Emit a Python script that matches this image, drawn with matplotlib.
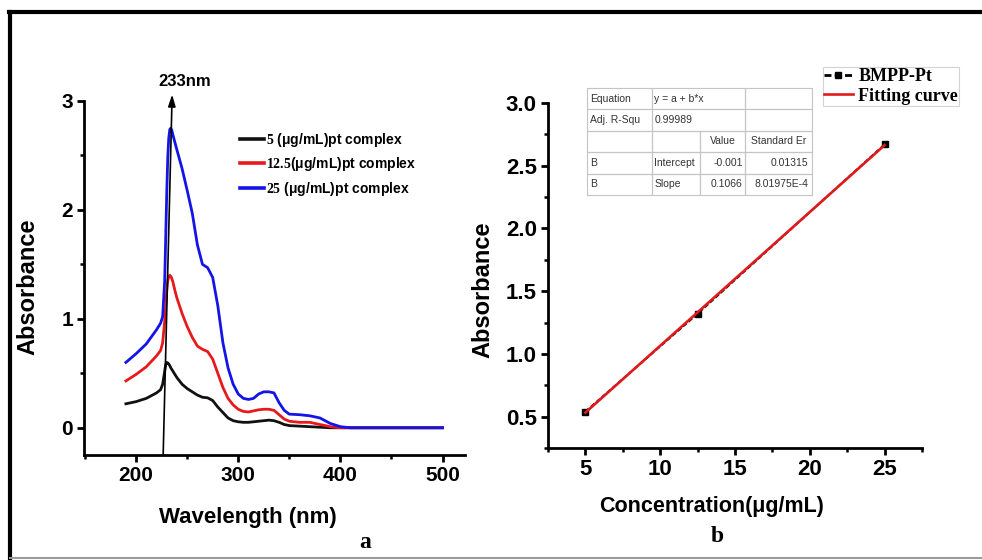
import matplotlib
matplotlib.use("Agg")
import matplotlib.pyplot as plt
from matplotlib.lines import Line2D
from matplotlib.ticker import MultipleLocator

plt.rcParams['font.family'] = ['Liberation Sans', 'DejaVu Sans']
plt.rcParams['font.weight'] = 'bold'
plt.rcParams['mathtext.fontset'] = 'custom'
plt.rcParams['mathtext.rm'] = 'Liberation Serif:bold'

# ---------------- data: panel a (UV-Vis spectra) ----------------
wavelength = [190, 200, 210, 220, 224, 226, 228, 229, 230, 231, 232, 233, 234, 235, 236, 238, 240,
              245, 250, 255, 260, 265, 270, 275, 280, 285, 290, 295, 300, 305, 310, 315, 320,
              325, 330, 335, 340, 345, 350, 360, 370, 380, 390, 400, 410, 420, 450, 500]
abs_5 = [0.22, 0.24, 0.27, 0.32, 0.35, 0.40, 0.52, 0.58, 0.60, 0.595, 0.585, 0.57, 0.55, 0.535, 0.52, 0.49, 0.46,
         0.40, 0.36, 0.33, 0.30, 0.28, 0.275, 0.25, 0.19, 0.14, 0.09, 0.065, 0.055, 0.05, 0.05, 0.055, 0.06,
         0.065, 0.07, 0.065, 0.05, 0.03, 0.02, 0.015, 0.01, 0.005, 0.0, 0.0, 0.0, 0.0, 0.0, 0.0]
abs_12_5 = [0.43, 0.49, 0.56, 0.66, 0.71, 0.78, 0.98, 1.12, 1.26, 1.35, 1.39, 1.40, 1.39, 1.37, 1.34, 1.26, 1.19,
            1.05, 0.93, 0.83, 0.75, 0.72, 0.70, 0.63, 0.50, 0.37, 0.27, 0.21, 0.17, 0.15, 0.145, 0.155, 0.165,
            0.17, 0.17, 0.16, 0.12, 0.08, 0.06, 0.05, 0.05, 0.03, 0.01, 0.0, 0.0, 0.0, 0.0, 0.0]
abs_25 = [0.60, 0.68, 0.77, 0.90, 0.96, 1.02, 1.35, 1.75, 2.15, 2.48, 2.66, 2.74, 2.75, 2.73, 2.69, 2.62, 2.55,
          2.38, 2.18, 1.97, 1.68, 1.50, 1.47, 1.38, 1.12, 0.78, 0.55, 0.40, 0.31, 0.27, 0.26, 0.27, 0.31,
          0.33, 0.33, 0.32, 0.23, 0.16, 0.125, 0.12, 0.11, 0.09, 0.04, 0.01, 0.0, 0.0, 0.0, 0.0]
series_labels = [r"$\mathrm{5}$ (μg/mL)pt complex",
                 r"$\mathrm{12.5}$(μg/mL)pt complex",
                 r"$\mathrm{25}$ (μg/mL)pt complex"]
series_colors = ['#111111', '#e8191c', '#1414e6']
peak_label = "233nm"
arrow_base = (226.5, -0.25)
arrow_tip = (235.3, 3.06)

# ---------------- data: panel b (calibration) ----------------
conc = [5, 12.5, 25]
absorb = [0.54, 1.32, 2.67]
fit_a = -0.001
fit_b = 0.1066
table_rows = [["Equation", "y = a + b*x", "", ""],
              ["Adj. R-Squ", "0.99989", "", ""],
              ["", "", "Value", "Standard Er"],
              ["B", "Intercept", "-0.001", "0.01315"],
              ["B", "Slope", "0.1066", "8.01975E-4"]]

W, H = 982, 560
fig = plt.figure(figsize=(W / 100, H / 100), dpi=100)

def frac(x0, y0, x1, y1):
    return [x0 / W, 1 - y1 / H, (x1 - x0) / W, (y1 - y0) / H]

# ---------------- panel a ----------------
ax1 = fig.add_axes(frac(84, 101, 465, 455))
for y, lab, c in zip([abs_5, abs_12_5, abs_25], series_labels, series_colors):
    ax1.plot(wavelength, y, color=c, lw=2.0, label=lab, solid_joinstyle='round')
ax1.set_xlim(149, 522)
ax1.set_ylim(-0.25, 3.0)
ax1.xaxis.set_major_locator(MultipleLocator(100))
ax1.xaxis.set_minor_locator(MultipleLocator(50))
ax1.yaxis.set_major_locator(MultipleLocator(1))
ax1.yaxis.set_minor_locator(MultipleLocator(0.5))
ax1.annotate("", xy=arrow_tip, xytext=arrow_base, annotation_clip=False,
             arrowprops=dict(arrowstyle='-|>,head_length=0.7,head_width=0.22',
                             color='black', lw=1.2, shrinkA=0, shrinkB=0))
ax1.text(248, 3.18, peak_label, ha='center', va='center', fontsize=12,
         fontweight='bold', clip_on=False)
leg1 = ax1.legend(loc='upper left', bbox_to_anchor=(240 / W, 1 - 131 / H),
                  bbox_transform=fig.transFigure, frameon=False, fontsize=10,
                  handlelength=1.7, handletextpad=0.15, labelspacing=0.45,
                  borderpad=0, borderaxespad=0)
for t in leg1.get_texts():
    t.set_fontweight('bold')
for l in leg1.get_lines():
    l.set_linewidth(2.6)
ax1.set_xlabel("Wavelength (nm)", fontsize=16, fontweight='bold')
ax1.set_ylabel("Absorbance", fontsize=17, fontweight='bold')
ax1.xaxis.set_label_coords((248 - 84) / 381, (455 - 507) / 354)
ax1.yaxis.set_label_coords((39 - 84) / 381, (455 - 287) / 354)

# ---------------- panel b ----------------
ax2 = fig.add_axes(frac(548, 103, 922, 448))
ax2.plot(conc, absorb, color='black', lw=1.4, ls='--', dashes=(2.5, 1.2),
         marker='s', ms=5, label='BMPP-Pt', zorder=3)
fit_y = [fit_a + fit_b * c for c in conc]
ax2.plot(conc, fit_y, color='#e01a1c', lw=1.9, label='Fitting curve', zorder=4)
ax2.set_xlim(2.5, 27.5)
ax2.set_ylim(0.25, 3.0)
ax2.xaxis.set_major_locator(MultipleLocator(5))
ax2.xaxis.set_minor_locator(MultipleLocator(2.5))
ax2.yaxis.set_major_locator(MultipleLocator(0.5))
ax2.yaxis.set_minor_locator(MultipleLocator(0.25))
ax2.set_xlabel("Concentration(μg/mL)", fontsize=15.5, fontweight='bold')
ax2.set_ylabel("Absorbance", fontsize=17, fontweight='bold')
ax2.xaxis.set_label_coords((712 - 548) / 374, (448 - 496) / 345)
ax2.yaxis.set_label_coords((494 - 548) / 374, (448 - 290) / 345)
leg2 = ax2.legend(loc='upper left', bbox_to_anchor=(823 / W, 1 - 67 / H),
                  bbox_transform=fig.transFigure, frameon=True, fancybox=False,
                  handlelength=1.6, handletextpad=0.3,
                  labelspacing=0.15, borderpad=0.05, borderaxespad=0,
                  prop={'family': 'Liberation Serif', 'weight': 'bold', 'size': 13})
leg2.get_frame().set_edgecolor('#c8c8c8')
leg2.get_frame().set_linewidth(0.8)
leg2.get_lines()[0].set_linewidth(2.0)

tbl = ax2.table(cellText=table_rows, cellLoc='left',
                colWidths=[65, 48, 45, 67],
                bbox=[(587 - 548) / 374, (448 - 195) / 345, (812 - 587) / 374, (195 - 88) / 345])
tbl.auto_set_font_size(False)
tbl.set_zorder(6)
for (r, c), cell in tbl.get_celld().items():
    cell.set_edgecolor('#c4c4c4')
    cell.set_facecolor('none')
    cell.set_linewidth(0.8)
    cell.get_text().set_fontsize(7.5)
    cell.get_text().set_fontweight('normal')
    cell.get_text().set_color('#333333')
    cell.PAD = 0.05
    if c >= 2 and r >= 2:
        cell._loc = 'right' if r >= 3 else 'center'
        cell.get_text().set_ha(cell._loc)
    if r <= 1 and c == 2:
        cell.visible_edges = 'BTR'
    if r <= 1 and c == 1:
        cell.visible_edges = 'BTL'

for ax in (ax1, ax2):
    for s in ['top', 'right']:
        ax.spines[s].set_visible(False)
    for s in ['left', 'bottom']:
        ax.spines[s].set_linewidth(2.0)
    ax.tick_params(which='major', direction='out', length=5, width=2,
                   labelsize=15, pad=3)
    ax.tick_params(which='minor', direction='out', length=3, width=1.8)
    for lab in ax.get_xticklabels() + ax.get_yticklabels():
        lab.set_fontweight('bold')
ax2.tick_params(which='major', labelsize=16)

fig.text(365 / W, 1 - 542 / H, "a", ha='center', va='center', fontsize=17,
         fontweight='bold', family='Liberation Serif')
fig.text(717 / W, 1 - 537 / H, "b", ha='center', va='center', fontsize=17,
         fontweight='bold', family='Liberation Serif')

# outer frame
fig.add_artist(Line2D([10 / W, 10 / W], [1 - 12 / H, 1 - 558 / H], color='black', lw=3,
                      transform=fig.transFigure))
fig.add_artist(Line2D([8.5 / W, 1.0], [1 - 12 / H, 1 - 12 / H], color='black', lw=3,
                      transform=fig.transFigure))
fig.add_artist(Line2D([10 / W, 1.0], [1 - 558 / H, 1 - 558 / H], color='#9a9a9a', lw=1.5,
                      transform=fig.transFigure))

fig.savefig("out.png", dpi=100)
